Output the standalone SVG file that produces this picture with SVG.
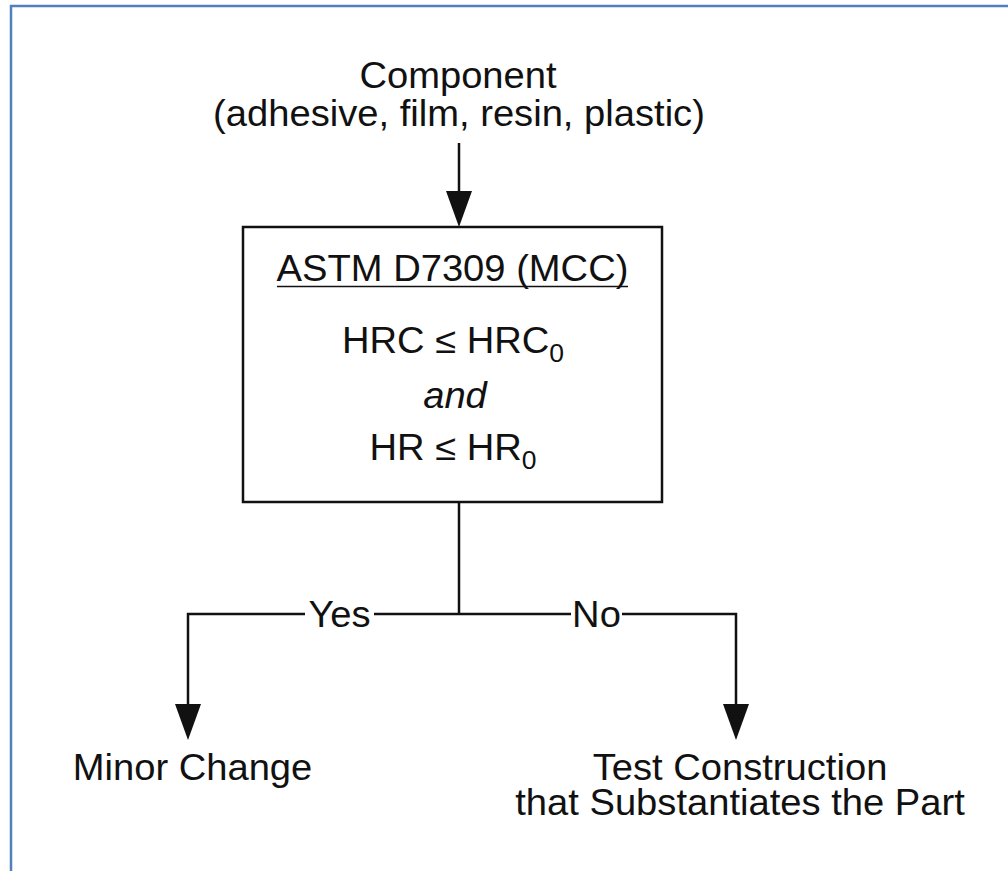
<svg xmlns="http://www.w3.org/2000/svg" width="1008" height="871" viewBox="0 0 1008 871">
  <style>
    .t { font-family: "Liberation Sans", Arial, Helvetica, sans-serif; font-size: 36px; fill: #111; text-anchor: middle; }
    .sub { font-size: 25px; }
    .it { font-style: italic; }
    .ln { stroke: #111; stroke-width: 2.5; fill: none; }
  </style>
  <defs>
    <marker id="arr" viewBox="0 0 36 26" refX="0" refY="13" markerWidth="36" markerHeight="26" markerUnits="userSpaceOnUse" orient="auto">
      <path d="M0,0 L36,13 L0,26 z" fill="#111"/>
    </marker>
  </defs>
  <rect width="1008" height="871" fill="#ffffff"/>
  <path d="M11,871 V6 H1008" fill="none" stroke="#4f81bd" stroke-width="2.5"/>

  <g id="component">
    <text class="t" transform="translate(458,88) scale(1.06,1)">Component</text>
    <text class="t" transform="translate(459,126) scale(1.06,1)">(adhesive, film, resin, plastic)</text>
  </g>

  <g id="mcc">
    <rect x="243" y="227" width="419" height="275" class="ln"/>
    <text class="t" transform="translate(452.5,281) scale(1.06,1)">ASTM D7309 (MCC)</text>
    <line x1="277" y1="286.5" x2="628" y2="286.5" stroke="#111" stroke-width="1.5"/>
    <text class="t" transform="translate(453,353) scale(1.06,1)">HRC ≤ HRC<tspan class="sub" dy="9">0</tspan></text>
    <text class="t it" transform="translate(455,408) scale(1.06,1)">and</text>
    <text class="t" transform="translate(453,460) scale(1.06,1)">HR ≤ HR<tspan class="sub" dy="9">0</tspan></text>
  </g>

  <g id="minor">
    <text class="t" transform="translate(192.5,780) scale(1.06,1)">Minor Change</text>
  </g>

  <g id="test">
    <text class="t" transform="translate(740,780) scale(1.06,1)">Test Construction</text>
    <text class="t" transform="translate(740,815) scale(1.06,1)">that Substantiates the Part</text>
  </g>

  <g id="connectors">
    <line x1="459" y1="143" x2="459" y2="191" class="ln" marker-end="url(#arr)"/>
    <line x1="459" y1="502" x2="459" y2="614" class="ln"/>
    <polyline points="305,614 188,614 188,704" class="ln" marker-end="url(#arr)"/>
    <line x1="374" y1="614" x2="571" y2="614" class="ln"/>
    <polyline points="622,614 736,614 736,704" class="ln" marker-end="url(#arr)"/>
    <text class="t" transform="translate(339.5,627) scale(1.06,1)">Yes</text>
    <text class="t" transform="translate(596.5,627) scale(1.06,1)">No</text>
  </g>
</svg>
